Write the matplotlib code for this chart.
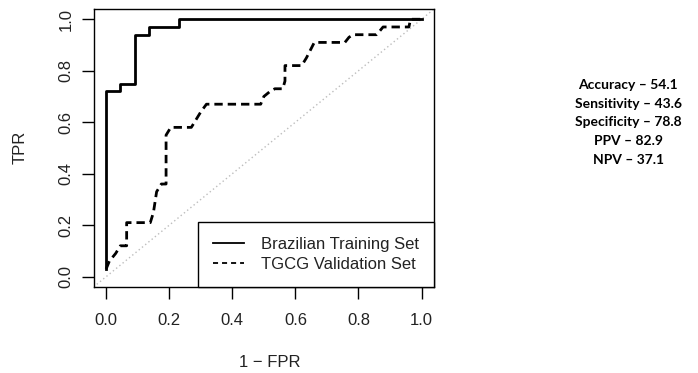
import matplotlib.pyplot as plt
from matplotlib.lines import Line2D

# ROC curves (x = 1 - FPR, y = TPR)
train_x = [0.0, 0.0, 0.045, 0.045, 0.09, 0.09, 0.137, 0.137, 0.23, 0.23, 1.0]
train_y = [0.03, 0.72, 0.72, 0.75, 0.75, 0.94, 0.94, 0.97, 0.97, 1.0, 1.0]

valid_x = [0.0, 0.01, 0.03, 0.045, 0.065, 0.065, 0.14, 0.15, 0.16, 0.175,
           0.19, 0.19, 0.205, 0.27, 0.285, 0.30, 0.318, 0.49, 0.50, 0.52,
           0.535, 0.56, 0.567, 0.567, 0.62, 0.635, 0.66, 0.757, 0.77, 0.783,
           0.857, 0.868, 0.878, 0.96, 0.965, 1.0]
valid_y = [0.03, 0.06, 0.09, 0.12, 0.12, 0.21, 0.21, 0.25, 0.33, 0.36,
           0.36, 0.55, 0.58, 0.58, 0.61, 0.64, 0.67, 0.67, 0.70, 0.72,
           0.73, 0.73, 0.76, 0.82, 0.82, 0.85, 0.91, 0.91, 0.93, 0.94,
           0.94, 0.955, 0.97, 0.97, 1.0, 1.0]

series_labels = ["Brazilian Training Set", "TGCG Validation Set"]
stat_names = ["Accuracy", "Sensitivity", "Specificity", "PPV", "NPV"]
stat_values = [54.1, 43.6, 78.8, 82.9, 37.1]
ticks = [0.0, 0.2, 0.4, 0.6, 0.8, 1.0]

plt.rcParams["font.family"] = ["Liberation Sans", "DejaVu Sans"]
txt = "#222222"

fig = plt.figure(figsize=(6.98, 3.73), dpi=100)
ax = fig.add_axes([0.134, 0.2306, 0.488, 0.7454])

ax.axline((0, 0), (1, 1), color="#bdbdbd", lw=1, linestyle=(0, (1, 2)))
ax.plot(train_x, train_y, color="black", lw=2)
ax.plot(valid_x, valid_y, color="black", lw=2, linestyle=(0, (3, 1.8)))

ax.set_xlim(-0.04, 1.04)
ax.set_ylim(-0.04, 1.04)
ax.set_xticks(ticks)
ax.set_xticklabels([f"{t:.1f}" for t in ticks])
ax.set_yticks(ticks)
ax.set_yticklabels([f"{t:.1f}" for t in ticks], rotation=90, va="center")
ax.tick_params(axis="both", direction="out", length=8.6, width=1,
               labelsize=12, labelcolor=txt)
ax.tick_params(axis="x", pad=10)
ax.tick_params(axis="y", pad=6)
for s in ax.spines.values():
    s.set_linewidth(1)

fig.text(0.387, 0.027, "1 \u2212 FPR", ha="center", va="center",
         fontsize=12, color=txt)
fig.text(0.029, 0.606, "TPR", ha="center", va="center", rotation=90,
         fontsize=12, color=txt)

handles = [Line2D([], [], color="black", lw=1.3),
           Line2D([], [], color="black", lw=1.3, linestyle=(0, (2.8, 2.2)))]
leg = ax.legend(handles, series_labels, loc="lower right",
                bbox_to_anchor=(1, 0), borderaxespad=0, fancybox=False,
                framealpha=1, edgecolor="black", fontsize=12,
                handlelength=1.9, handletextpad=1.0, borderpad=0.9,
                labelspacing=0.3)
leg.get_frame().set_linewidth(1)
for t in leg.get_texts():
    t.set_color(txt)

# summary statistics beside the plot
for i, (name, val) in enumerate(zip(stat_names, stat_values)):
    fig.text(0.9, 1 - (85 + i * 18.75) / 373, f"{name} \u2013 {val:.1f}",
             ha="center", va="center", fontsize=10, fontweight="bold",
             family="Lato", color="black")

fig.savefig("out.png", dpi=100)
